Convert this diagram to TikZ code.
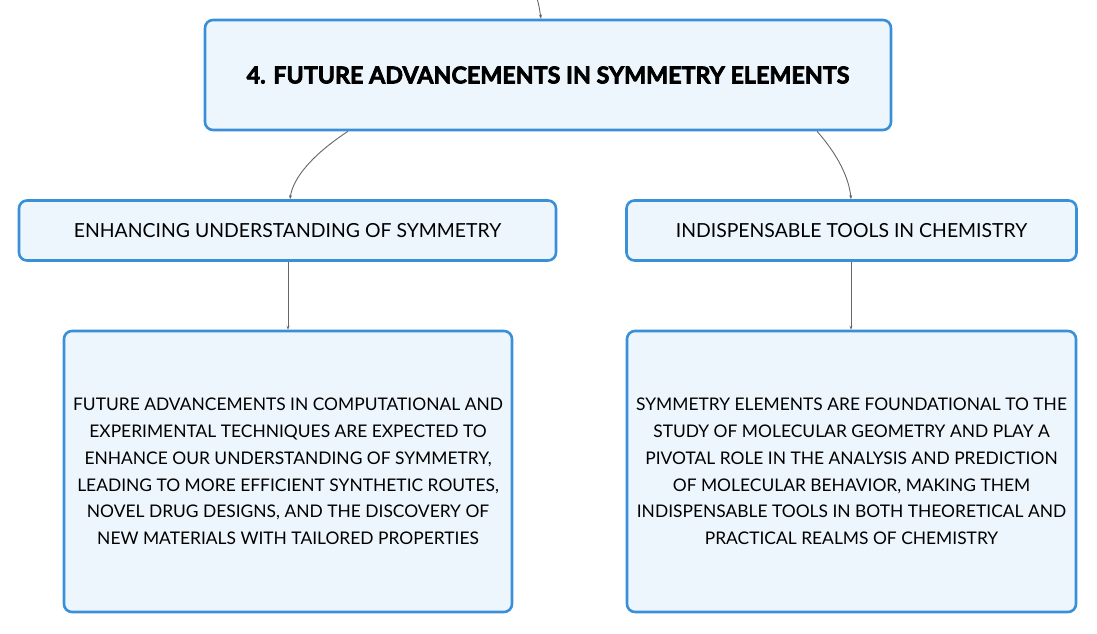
\documentclass[tikz,border=0pt]{standalone}
\usepackage{fontspec}
\setmainfont{Lato}[BoldFeatures={FakeBold=3}]
\usetikzlibrary{arrows.meta}
\definecolor{boxline}{HTML}{3A8FD9}
\definecolor{boxfill}{HTML}{EEF6FD}
\definecolor{conn}{HTML}{666666}
\tikzset{
  box/.style={draw=boxline, fill=boxfill, line width=2.6pt, rounded corners=8pt, inner sep=0pt, align=center, text=black},
  conline/.style={draw=conn, line width=0.9pt, -{Stealth[length=4pt,width=3pt]}},
  bodytext/.style={font=\fontsize{17.4}{26.8}\selectfont},
  midtext/.style={font=\fontsize{19.4}{22}\selectfont},
  titletext/.style={font=\fontsize{23.3}{26}\selectfont\bfseries}
}
\begin{document}
\begin{tikzpicture}[x=1pt,y=-1pt]
\useasboundingbox (0,0) rectangle (1097,634);
\node[box, titletext, minimum width=686pt, minimum height=110pt] (top) at (548,75) {4. FUTURE ADVANCEMENTS IN SYMMETRY ELEMENTS};
\node[box, midtext, minimum width=537pt, minimum height=60pt] (l1) at (287.5,230.5) {ENHANCING UNDERSTANDING OF SYMMETRY};
\node[box, midtext, minimum width=450pt, minimum height=60pt] (r1) at (851.5,230.5) {INDISPENSABLE TOOLS IN CHEMISTRY};
\node[box, bodytext, minimum width=448pt, minimum height=281pt] (l2) at (288,471.5) {FUTURE ADVANCEMENTS IN COMPUTATIONAL AND\\EXPERIMENTAL TECHNIQUES ARE EXPECTED TO\\ENHANCE OUR UNDERSTANDING OF SYMMETRY,\\LEADING TO MORE EFFICIENT SYNTHETIC ROUTES,\\NOVEL DRUG DESIGNS, AND THE DISCOVERY OF\\NEW MATERIALS WITH TAILORED PROPERTIES};
\node[box, bodytext, minimum width=449pt, minimum height=281pt] (r2) at (851.5,471.5) {SYMMETRY ELEMENTS ARE FOUNDATIONAL TO THE\\STUDY OF MOLECULAR GEOMETRY AND PLAY A\\PIVOTAL ROLE IN THE ANALYSIS AND PREDICTION\\OF MOLECULAR BEHAVIOR, MAKING THEM\\INDISPENSABLE TOOLS IN BOTH THEORETICAL AND\\PRACTICAL REALMS OF CHEMISTRY};
\coordinate (in) at (537,-2);
\draw[conline] (in) .. controls (539,6) .. (top.north -| 541,0);
\draw[conline] (top.south -| 348,0) .. controls (312,155) and (293,178) .. (l1.north -| 290,0);
\draw[conline] (top.south -| 817,0) .. controls (838,155) and (849,178) .. (r1.north -| 851,0);
\draw[conline] (l1.south -| 288,0) -- (l2.north -| 288,0);
\draw[conline] (r1.south -| 851,0) -- (r2.north -| 851,0);
\end{tikzpicture}
\end{document}
